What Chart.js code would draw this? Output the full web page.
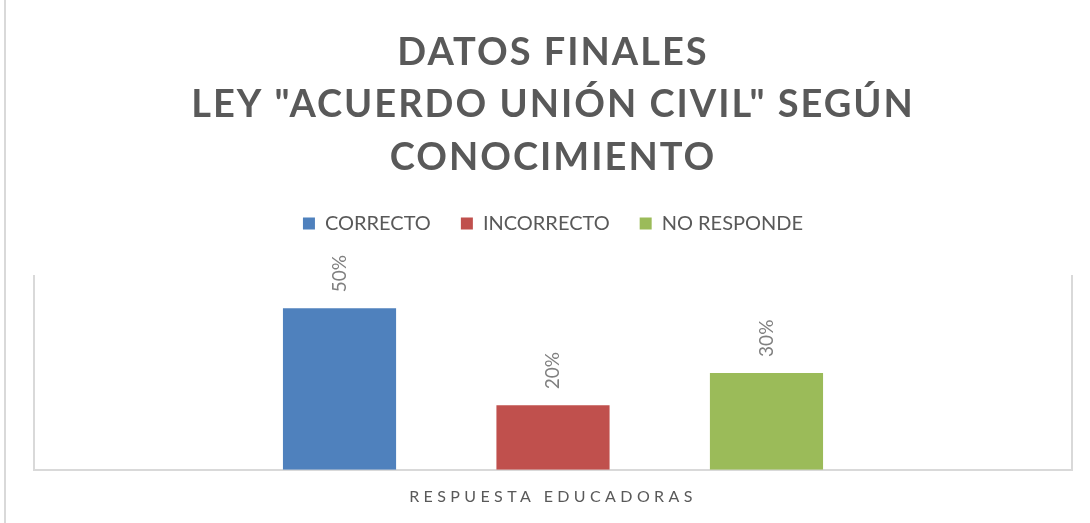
<!DOCTYPE html>
<html><head><meta charset="utf-8">
<script src="https://cdn.jsdelivr.net/npm/chart.js@4"></script>
<style>
html,body{margin:0;padding:0;background:#fff;}
#wrap{position:relative;width:1090px;height:523px;overflow:hidden;}
#wrap:before{content:'';position:absolute;left:4px;top:0;bottom:0;width:2px;background:#d9d9d9;}
canvas{position:absolute;left:0;top:0;}
</style></head><body>
<div id="wrap"><canvas id="c" width="1090" height="523"></canvas></div>
<script>
const titleLines = ['DATOS FINALES', 'LEY "ACUERDO UNIÓN CIVIL" SEGÚN', 'CONOCIMIENTO'];
const categories = ['RESPUESTA EDUCADORAS'];
const seriesNames = ['CORRECTO', 'INCORRECTO', 'NO RESPONDE'];
const correcto = [0.50];
const incorrecto = [0.20];
const noResponde = [0.30];
const seriesColors = ['#4f81bd', '#c0504d', '#9bbb59'];

const FONT = 'Lato';
const GREY = '#595959';

const valueLabels = {
  id: 'valueLabels',
  afterDatasetsDraw(chart) {
    const ctx = chart.ctx;
    chart.data.datasets.forEach((ds, i) => {
      const meta = chart.getDatasetMeta(i);
      meta.data.forEach((bar, j) => {
        ctx.save();
        ctx.translate(bar.x, bar.y - 16);
        ctx.rotate(-Math.PI / 2);
        ctx.font = '19px ' + FONT;
        ctx.fillStyle = '#808080';
        ctx.textAlign = 'left';
        ctx.textBaseline = 'middle';
        ctx.fillText(Math.round(ds.data[j] * 100) + '%', 0, 0);
        ctx.restore();
      });
    });
  }
};

const tweaks = {
  id: 'tweaks',
  beforeLayout(chart) {
    const lg = chart.legend;
    if (lg && !lg._patched) {
      const f = lg.fit;
      lg.fit = function () { f.call(this); this.height += 32.5; };
      lg._patched = true;
    }
  },
  afterLayout(chart) {
    const x = chart.scales.x;
    if (x && !x._patched) {
      const d = x.drawLabels;
      x.drawLabels = function (a) {
        const c = this.ctx; c.save(); c.letterSpacing = '4.4px'; d.call(this, a); c.restore();
      };
      x._patched = true;
    }
  },
  beforeDraw(chart) {
    const tb = chart.titleBlock;
    if (tb && !tb._patched) {
      const d = tb.draw;
      tb.draw = function () {
        const c = this.ctx; c.save(); c.letterSpacing = '2px'; d.call(this); c.restore();
      };
      tb._patched = true;
    }
  }
};

const datasets = [correcto, incorrecto, noResponde].map((vals, i) => ({
  label: seriesNames[i],
  data: vals,
  backgroundColor: seriesColors[i],
  borderWidth: 0,
  categoryPercentage: 0.617,
  barPercentage: 0.53
}));

new Chart(document.getElementById('c'), {
  type: 'bar',
  data: { labels: categories, datasets },
  plugins: [valueLabels, tweaks],
  options: {
    responsive: false,
    animation: false,
    layout: { padding: { left: 34, right: 18, top: 0, bottom: 0 } },
    plugins: {
      title: {
        display: true,
        text: titleLines,
        color: GREY,
        font: { family: FONT, size: 38, weight: 'bold', lineHeight: 52.5 / 38 },
        padding: { top: 26, bottom: 0 }
      },
      legend: {
        position: 'top',
        labels: {
          color: GREY,
          font: { family: FONT, size: 20 },
          boxWidth: 12, boxHeight: 12,
          padding: 30
        }
      },
      tooltip: { enabled: false }
    },
    scales: {
      x: {
        grid: { display: false, drawTicks: false },
        border: { display: true, color: '#d9d9d9', width: 2 },
        ticks: { color: GREY, font: { family: FONT, size: 16 }, padding: 17 }
      },
      y: {
        min: 0, max: 0.6,
        ticks: { display: false },
        grid: { display: false, drawTicks: false },
        border: { display: true, color: '#d9d9d9', width: 2 }
      },
      y2: {
        position: 'right',
        min: 0, max: 0.6,
        ticks: { display: false },
        grid: { display: false, drawTicks: false },
        border: { display: true, color: '#d9d9d9', width: 2 }
      }
    }
  }
});
</script>
</body></html>
